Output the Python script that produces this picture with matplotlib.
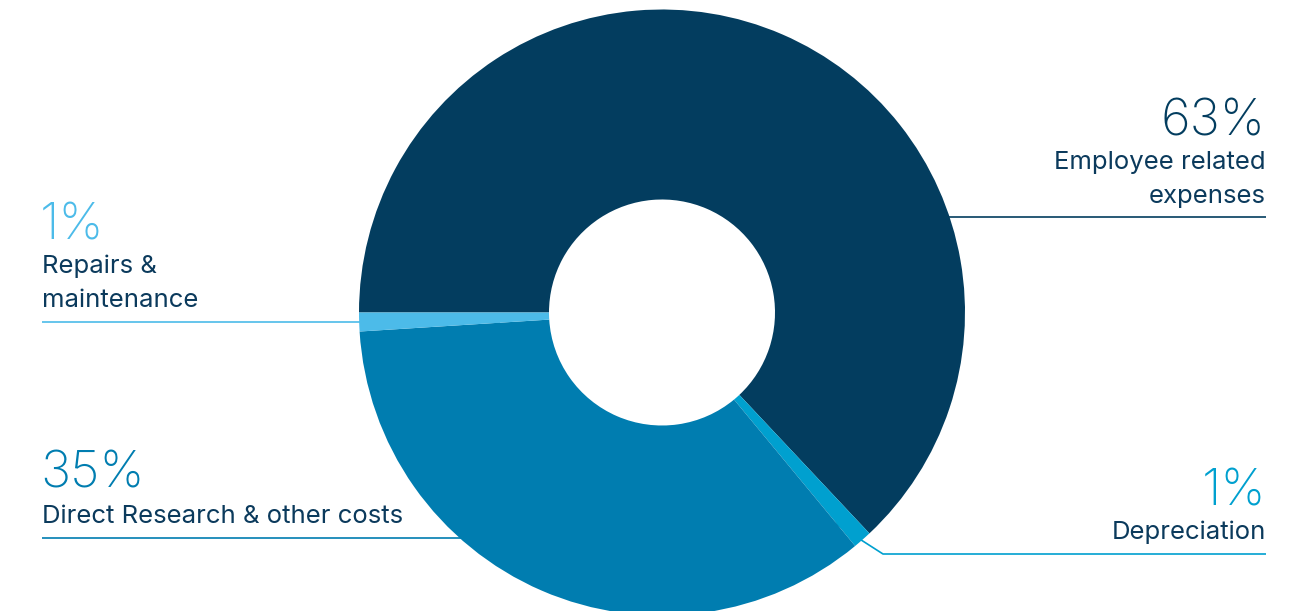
import matplotlib.pyplot as plt

# data
labels = ['Employee related\nexpenses', 'Depreciation', 'Direct Research & other costs', 'Repairs &\nmaintenance']
values = [63, 1, 35, 1]
pct_text = ['63%', '1%', '35%', '1%']
colors = ['#033d5f', '#00a0cf', '#007db0', '#4cbbe9']

text_col = '#0b3a5c'
H = 611

fig = plt.figure(figsize=(13.03, 6.11), dpi=100)
ax = fig.add_axes([0, 0, 1, 1])

# leader lines (pixel coords, y from top), drawn under the donut
def line(xs, ys, c):
    ax.plot(xs, [H - y for y in ys], color=c, lw=1.2, zorder=1, solid_capstyle='butt')

line([820, 1266], [217, 217], colors[0])
line([42, 500], [321.5, 321.5], colors[3])
line([42, 600], [538, 538], colors[2])
line([830, 883, 1266], [520, 554, 554], colors[1])

cx, cy, r = 662, H - 312.5, 303
ax.pie(values, colors=colors, startangle=180, counterclock=False,
       radius=r, center=(cx, cy),
       wedgeprops=dict(width=r - 113, edgecolor='none', zorder=2))

ax.set_xlim(0, 1303)
ax.set_ylim(0, H)
ax.set_aspect('equal')
ax.axis('off')

font = 'Inter'
big = 36.5
small = 18.5
ls = 1.6
# right side labels
ax.text(1266, H - 136, pct_text[0], ha='right', va='baseline', fontsize=big,
        color=colors[0], family=font, weight='light')
ax.text(1266, H - 203, labels[0], ha='right', va='baseline', fontsize=small,
        color=text_col, family=font, linespacing=ls, multialignment='right')
ax.text(1266, H - 506, pct_text[1], ha='right', va='baseline', fontsize=big,
        color=colors[1], family=font, weight='light')
ax.text(1266, H - 539, labels[1], ha='right', va='baseline', fontsize=small,
        color=text_col, family=font)

# left side labels
ax.text(40, H - 240, pct_text[3], ha='left', va='baseline', fontsize=big,
        color=colors[3], family=font, weight='light')
ax.text(42, H - 307, labels[3], ha='left', va='baseline', fontsize=small,
        color=text_col, family=font, linespacing=ls)
ax.text(40, H - 488, pct_text[2], ha='left', va='baseline', fontsize=big,
        color=colors[2], family=font, weight='light')
ax.text(42, H - 523, labels[2], ha='left', va='baseline', fontsize=small,
        color=text_col, family=font)

fig.savefig('out.png', dpi=100)
